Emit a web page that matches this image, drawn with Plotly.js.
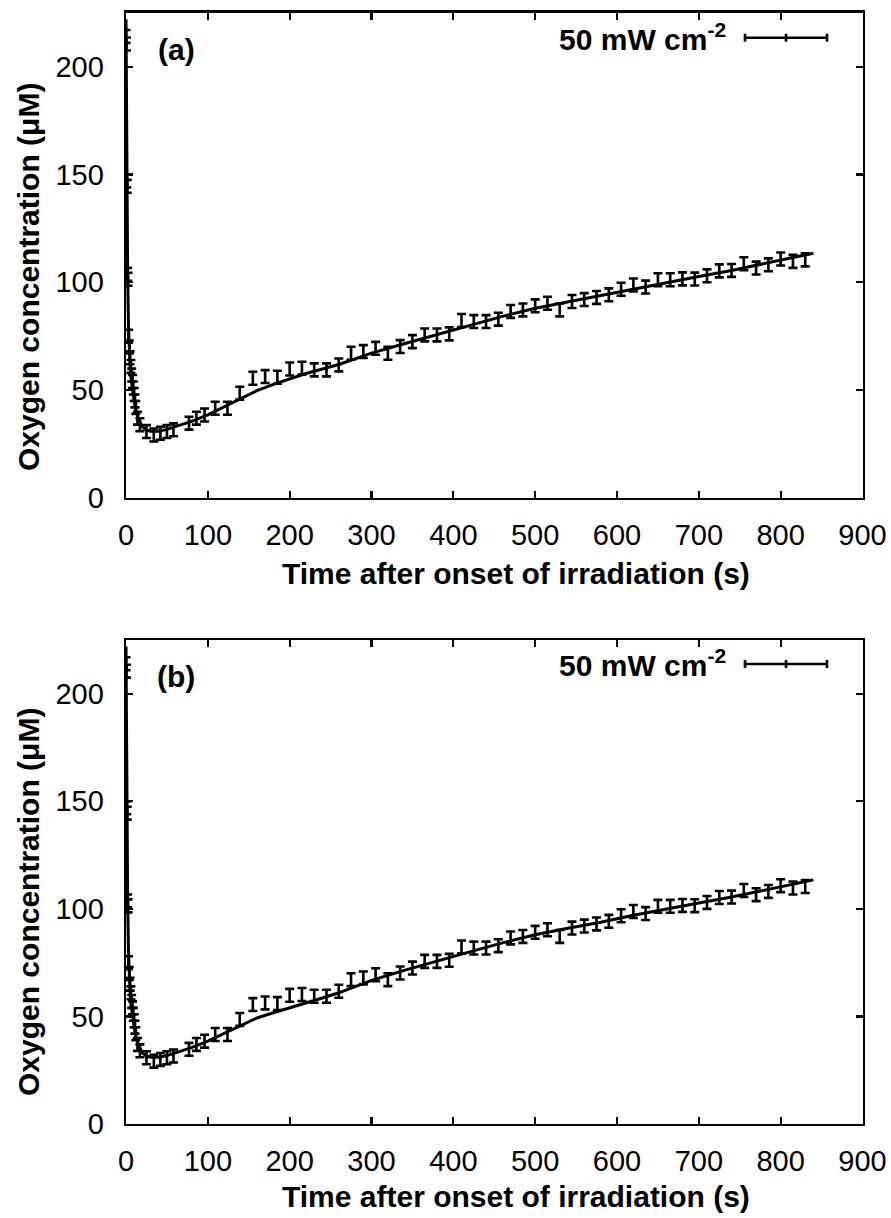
<!DOCTYPE html>
<html>
<head>
<meta charset="utf-8">
<script src="https://cdn.plot.ly/plotly-3.0.1.min.js"></script>
<style>html,body{margin:0;padding:0;background:#fff;}#chart{width:891px;height:1218px;}</style>
</head>
<body>
<div id="chart"></div>
<script>
// Measured data (time in s, oxygen concentration in µM)
const timeData = [0, 0.5, 1, 1.5, 2, 2.5, 3, 4, 5, 6, 7, 8, 9, 10, 11, 12, 14, 17,
  25, 34, 42, 50, 58, 77, 86, 96, 109, 124, 139,
  155, 170, 185, 200, 215, 230, 245, 260, 275, 290, 305, 320, 335, 350, 365, 380, 395,
  410, 425, 440, 455, 470, 485, 500, 515, 530, 545, 560, 575, 590, 605, 620, 635, 650,
  665, 680, 695, 710, 725, 740, 755, 770, 785, 800, 815, 830];
const oxygenData = [214, 210.5, 147, 144.5, 103.7, 101.4, 75, 70, 65, 61, 57, 54, 51, 48, 45, 42, 37, 34,
  30.8, 29.2, 30, 30.8, 31.6, 34.7, 37, 38.5, 41.6, 41.6, 48.6,
  55.5, 56.3, 56, 59.8, 60.2, 59.4, 59.4, 61.7, 67.1, 67.9, 69.4, 67.1, 70.2, 72.5, 75.6, 75.6, 76.1,
  82.3, 81.8, 81.8, 82.9, 86.5, 87.2, 89.1, 90.3, 87.2, 91.1, 92, 93, 94.2, 96.8, 98.8, 97.8, 101.2,
  101.2, 101.6, 101.5, 103, 105.3, 105.5, 108.6, 106.6, 108.1, 110.8, 109.7, 110.4];
const errorHalf = 3;

// Model curves
const modelTime = [0, 0.5, 1, 1.5, 2, 3, 4, 5, 6, 8, 10, 12, 15, 20, 25, 30, 40, 50, 60, 80, 100, 120,
  140, 160, 180, 200, 220, 240, 260, 280, 300, 340, 380, 420, 460, 500, 540, 580, 620, 660, 700, 740, 780, 810, 840];
const modelA = [222, 180, 150, 125, 105, 80, 68, 61, 56, 50, 45, 41, 37, 33, 31.5, 31, 31, 31.8, 33, 35.5, 38.5, 42.2,
  46.0, 49.8, 52.7, 55.3, 57.7, 59.8, 61.9, 64.5, 67.2, 71.5, 75.8, 80, 84.2, 88, 91, 93.8, 97.0, 100, 102.7, 105.5, 108.7, 111, 113.5];
const modelB = [222, 180, 150, 125, 105, 80, 68, 61, 56, 50, 45, 41, 37, 33, 31.5, 31, 31, 31.8, 33, 35.5, 38.5, 42.2,
  45.9, 49.3, 51.7, 53.9, 56.3, 58.6, 61.0, 63.8, 66.8, 71.4, 75.8, 80, 84.2, 88, 91, 93.8, 97.0, 100, 102.7, 105.5, 108.7, 111, 113.5];

const xTickVals = [0, 100, 200, 300, 400, 500, 600, 700, 800, 900];
const yTickVals = [0, 50, 100, 150, 200];
const legendLabel = '<b>50 mW cm<sup>-2</sup></b>';
const xTitle = '<b>Time after onset of irradiation (s)</b>';
const yTitle = '<b>Oxygen concentration (μM)</b>';

const W = 891, H = 1218;
const px = v => v / W;
const py = v => 1 - v / H;

function errTrace(xa, ya) {
  return {
    x: timeData, y: oxygenData, xaxis: xa, yaxis: ya, type: 'scatter', mode: 'markers',
    marker: {size: 2, color: 'black'},
    error_y: {type: 'constant', value: errorHalf, color: 'black', thickness: 2.6, width: 4.5},
    showlegend: false, hoverinfo: 'skip'
  };
}
function lineTrace(xa, ya, yv) {
  return {
    x: modelTime, y: yv, xaxis: xa, yaxis: ya, type: 'scatter', mode: 'lines',
    line: {color: 'black', width: 3}, showlegend: false, hoverinfo: 'skip'
  };
}

const axFont = {family: 'Liberation Sans, Arial, sans-serif', size: 29, color: 'black'};
function xAx(anchor) {
  return {
    domain: [px(126), px(862.5)], anchor: anchor, range: [0, 900], tickvals: xTickVals,
    ticks: 'inside', ticklen: 7, tickwidth: 2.2, tickcolor: 'black', showline: true, linewidth: 2.4,
    linecolor: 'black', mirror: 'ticks', showgrid: false, zeroline: false, tickfont: axFont,
    ticklabelstandoff: 10
  };
}
function yAx(anchor, top, bottom) {
  return {
    domain: [py(bottom), py(top)], anchor: anchor, range: [0, 225], tickvals: yTickVals,
    ticks: 'inside', ticklen: 7, tickwidth: 2.2, tickcolor: 'black', showline: true, linewidth: 2.4,
    linecolor: 'black', mirror: 'ticks', showgrid: false, zeroline: false, tickfont: axFont,
    ticklabelstandoff: 14
  };
}

const bold = {family: 'Liberation Sans, Arial, sans-serif', size: 30, color: 'black'};
function ann(text, x, y, extra) {
  return Object.assign({text: text, x: px(x), y: py(y), xref: 'paper', yref: 'paper',
    showarrow: false, font: bold, xanchor: 'center', yanchor: 'middle'}, extra || {});
}

function legendShapes(yc) {
  const s = {type: 'line', xref: 'paper', yref: 'paper', line: {color: 'black', width: 2.6}};
  return [
    Object.assign({}, s, {x0: px(745), x1: px(827), y0: py(yc), y1: py(yc)}),
    Object.assign({}, s, {x0: px(745), x1: px(745), y0: py(yc - 4), y1: py(yc + 4)}),
    Object.assign({}, s, {x0: px(786), x1: px(786), y0: py(yc - 4), y1: py(yc + 4)}),
    Object.assign({}, s, {x0: px(827), x1: px(827), y0: py(yc - 4), y1: py(yc + 4)})
  ];
}

const data = [
  lineTrace('x', 'y', modelA), errTrace('x', 'y'),
  lineTrace('x2', 'y2', modelB), errTrace('x2', 'y2')
];

const layout = {
  width: W, height: H, margin: {l: 0, r: 0, t: 0, b: 0},
  paper_bgcolor: 'white', plot_bgcolor: 'white', showlegend: false,
  font: {family: 'Liberation Sans, Arial, sans-serif', color: 'black'},
  xaxis: xAx('y'), yaxis: yAx('x', 12.7, 498),
  xaxis2: xAx('y2'), yaxis2: yAx('x2', 640, 1124),
  annotations: [
    ann('<b>(a)</b>', 176, 50),
    ann('<b>(b)</b>', 176, 676),
    ann(legendLabel, 728, 37, {xanchor: 'right'}),
    ann(legendLabel, 728, 663, {xanchor: 'right'}),
    ann(xTitle, 516, 573),
    ann(xTitle, 516, 1196),
    ann(yTitle, 28, 277, {textangle: -90}),
    ann(yTitle, 28, 902, {textangle: -90})
  ],
  shapes: legendShapes(37.7).concat(legendShapes(664))
};

Plotly.newPlot('chart', data, layout, {staticPlot: true, displayModeBar: false});
</script>
</body>
</html>
